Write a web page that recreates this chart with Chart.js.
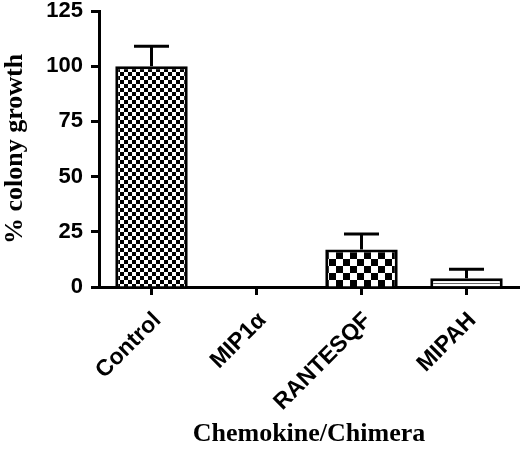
<!DOCTYPE html>
<html>
<head>
<meta charset="utf-8">
<script src="https://cdn.jsdelivr.net/npm/chart.js@4/dist/chart.umd.min.js"></script>
<style>
  html, body { margin: 0; padding: 0; background: #fff; }
  #wrap { width: 520px; height: 450px; }
</style>
</head>
<body>
<div id="wrap"><canvas id="myChart" width="520" height="450"></canvas></div>
<script>
var categories = ["Control", "MIP1\u03b1", "RANTESQF", "MIPAH"];
var growth = [100, 0, 17, 4];
var growthErr = [9, 0, 7, 4];
var yTicks = [0, 25, 50, 75, 100, 125];

function makePattern(kind) {
    var c = document.createElement('canvas');
    var g = c.getContext('2d');
    if (kind === 'fine' || kind === 'coarse') {
        var s = kind === 'fine' ? 4 : 7;
        c.width = s * 2; c.height = s * 2;
        g.fillStyle = '#fff';
        g.fillRect(0, 0, s * 2, s * 2);
        g.fillStyle = '#000';
        g.fillRect(0, 0, s, s);
        g.fillRect(s, s, s, s);
    } else {
        c.width = 4; c.height = 3;
        g.fillStyle = '#fff';
        g.fillRect(0, 0, 4, 3);
        g.fillStyle = '#666';
        g.fillRect(0, 1, 4, 1);
    }
    return document.getElementById('myChart').getContext('2d').createPattern(c, 'repeat');
}

var fills = [makePattern('fine'), '#fff', makePattern('coarse'), makePattern('lines')];

var errorBars = {
    id: 'errorBars',
    afterDatasetsDraw(chart) {
        var ctx = chart.ctx;
        var xs = chart.scales.x, ys = chart.scales.y;
        ctx.save();
        ctx.strokeStyle = '#000';
        ctx.lineWidth = 3;
        growth.forEach(function (v, i) {
            if (!growthErr[i]) return;
            var x = xs.getPixelForValue(i);
            var y0 = ys.getPixelForValue(v);
            var y1 = ys.getPixelForValue(v + growthErr[i]);
            ctx.beginPath();
            ctx.moveTo(x, y0);
            ctx.lineTo(x, y1);
            ctx.moveTo(x - 17.5, y1);
            ctx.lineTo(x + 17.5, y1);
            ctx.stroke();
        });
        ctx.restore();
    }
};

new Chart('myChart', {
    type: 'bar',
    data: {
        labels: categories,
        datasets: [{
            data: growth,
            backgroundColor: fills,
            borderColor: '#000',
            borderWidth: 3,
            borderSkipped: 'start',
            categoryPercentage: 1,
            barPercentage: 0.69
        }]
    },
    options: {
        responsive: false,
        animation: false,
        layout: { padding: { top: 11, right: 1, left: 0, bottom: 0 } },
        plugins: {
            legend: { display: false },
            tooltip: { enabled: false }
        },
        scales: {
            x: {
                grid: { offset: false, drawOnChartArea: false, drawTicks: true, tickLength: 8, tickWidth: 3, tickColor: '#000' },
                border: { display: true, color: '#000', width: 3 },
                ticks: {
                    color: '#000',
                    maxRotation: 45,
                    minRotation: 45,
                    padding: 12,
                    labelOffset: 6,
                    font: { family: 'Liberation Sans', weight: 'bold', size: 23 }
                },
                title: {
                    display: true,
                    text: 'Chemokine/Chimera',
                    color: '#000',
                    padding: 0,
                    font: { family: 'Liberation Serif', weight: 'bold', size: 26 }
                },
                afterFit(scale) {
                    scale.height = 163;
                    scale.paddingLeft = 0;
                    scale.paddingRight = 0;
                }
            },
            y: {
                min: 0,
                max: 125,
                afterBuildTicks(scale) {
                    scale.ticks = yTicks.map(function (v) { return { value: v }; });
                },
                grid: { drawOnChartArea: false, drawTicks: true, tickLength: 8, tickWidth: 3, tickColor: '#000' },
                border: { display: true, color: '#000', width: 3 },
                ticks: {
                    color: '#000',
                    padding: 8,
                    font: { family: 'Liberation Sans', weight: 'bold', size: 22 }
                },
                title: {
                    display: true,
                    text: '% colony growth',
                    color: '#000',
                    padding: 0,
                    font: { family: 'Liberation Serif', weight: 'bold', size: 26 }
                },
                afterFit(scale) {
                    scale.width = 99;
                    scale.paddingTop = 0;
                    scale.paddingBottom = 0;
                }
            }
        }
    },
    plugins: [errorBars]
});
</script>
</body>
</html>
